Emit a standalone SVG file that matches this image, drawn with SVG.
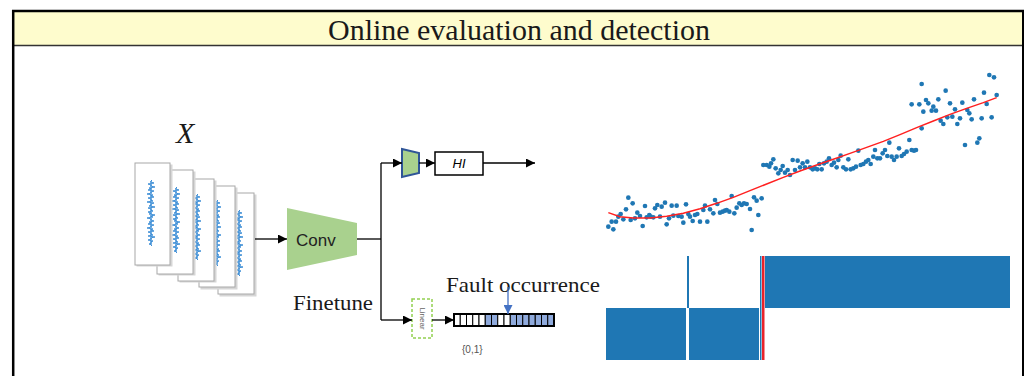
<svg xmlns="http://www.w3.org/2000/svg" xmlns:xlink="http://www.w3.org/1999/xlink" width="1027" height="376" viewBox="0 0 1027 376">
<style>
.serif{font-family:"Liberation Serif","Times New Roman",serif;fill:#1a1a1a}
.sans{font-family:"Liberation Sans",Arial,sans-serif}
.ln{fill:none;stroke:#000;stroke-width:1.3}
.card{fill:#fff;stroke:#a8a8a8;stroke-width:1}
.shadow{fill:#d6d6d6}
.sig{fill:none;stroke:#2f86d2;stroke-width:0.9}
.pt{fill:#1f77b4}
.cell{stroke:#000;stroke-width:1}
</style>
<defs>
<marker id="ah" viewBox="0 0 10 10" refX="10" refY="5" markerUnits="userSpaceOnUse" markerWidth="9" markerHeight="9" orient="auto"><path d="M0,0 L10,5 L0,10 z" fill="#000"/></marker>
<marker id="ahb" viewBox="0 0 10 10" refX="10" refY="5" markerUnits="userSpaceOnUse" markerWidth="9" markerHeight="9" orient="auto"><path d="M0,0 L10,5 L0,10 z" fill="#4472c4"/></marker>
<path id="sig" class="sig" d="M0,0 L1,1 L-1,2 L3,3 L-3,4 L1,5 L-1,6 L4,7 L-2,8 L1,9 L-3,10 L3,11 L-1,12 L1,13 L-4,14 L2,15 L-1,16 L3,17 L-3,18 L1,19 L-1,20 L2,21 L-4,22 L3,23 L-1,24 L1,25 L-2,26 L4,27 L-3,28 L1,29 L-1,30 L2,31 L-3,32 L1,33 L-2,34 L4,35 L-1,36 L2,37 L-4,38 L1,39 L-1,40 L3,41 L-2,42 L1,43 L-3,44 L3,45 L-1,46 L1,47 L-4,48 L2,49 L-1,50 L3,51 L-3,52 L1,53 L-1,54 L2,55 L-3,56 L4,57 L-1,58 L1,59 L-3,60 L2,61 L-1,62 L1,63 L-2,64 L1,65 L0,66"/>
</defs>

<g id="frame">
<rect x="13" y="11" width="1010" height="34" fill="#fefccd"/>
<line x1="13" y1="45.5" x2="1023" y2="45.5" stroke="#333" stroke-width="1.5"/>
<line x1="12" y1="11" x2="1024" y2="11" stroke="#000" stroke-width="2.5"/>
<line x1="13.2" y1="10" x2="13.2" y2="376" stroke="#000" stroke-width="2.5"/>
<line x1="1023" y1="10" x2="1023" y2="376" stroke="#000" stroke-width="2"/>
<text class="serif" x="519" y="40" font-size="30" text-anchor="middle" textLength="382" lengthAdjust="spacingAndGlyphs">Online evaluation and detection</text>
</g>

<g id="input-X">
<text class="serif" x="176" y="143" font-size="30" font-style="italic">X</text>
<rect class="shadow" x="219.5" y="194.5" width="37" height="102"/>
<rect class="card" x="218" y="193" width="36" height="101"/>
<use xlink:href="#sig" x="239" y="210"/>
<rect class="shadow" x="200.5" y="187.5" width="37" height="102"/>
<rect class="card" x="199" y="186" width="36" height="101"/>
<use xlink:href="#sig" x="217" y="200"/>
<rect class="shadow" x="179.5" y="180.5" width="37" height="102"/>
<rect class="card" x="178" y="179" width="36" height="102"/>
<use xlink:href="#sig" x="197" y="194"/>
<rect class="shadow" x="158.5" y="171.5" width="37" height="104"/>
<rect class="card" x="157" y="170" width="36" height="104"/>
<use xlink:href="#sig" x="176" y="187"/>
<rect class="shadow" x="136.5" y="164.5" width="36" height="102"/>
<rect class="card" x="135" y="163" width="35" height="102"/>
<use xlink:href="#sig" x="151" y="180"/>
</g>

<g id="conv">
<polygon points="287,208 357,223 357,255 287,270" fill="#a9d18e"/>
<text class="sans" x="296" y="246" font-size="17" fill="#222">Conv</text>
</g>

<g id="head">
<polygon points="402,149 419,153 419,173 402,177" fill="#a9d18e" stroke="#2f5597" stroke-width="2"/>
</g>

<g id="HI">
<rect x="435" y="152" width="48" height="23" fill="#fff" stroke="#000" stroke-width="1.5"/>
<text class="sans" x="459" y="168" font-size="13" font-style="italic" text-anchor="middle" fill="#000">HI</text>
</g>

<g id="linear">
<rect x="412" y="299" width="20" height="39" fill="#fff" stroke="#92d050" stroke-width="1.5" stroke-dasharray="3,2"/>
<text class="sans" font-size="8" fill="#666" text-anchor="middle" transform="translate(419.5,318.5) rotate(90)">Linear</text>
</g>

<g id="finetune-label">
<text class="serif" x="293" y="310" font-size="21" textLength="80" lengthAdjust="spacingAndGlyphs">Finetune</text>
</g>

<g id="fault-bar">
<text class="serif" x="446" y="292" font-size="22" textLength="154" lengthAdjust="spacingAndGlyphs">Fault occurrence</text>
<rect x="454" y="314" width="100" height="12" fill="#fff" stroke="#000" stroke-width="2"/>
<g class="cell">
<rect x="454" y="314" width="6.25" height="12" fill="#fff"/>
<rect x="460.25" y="314" width="6.25" height="12" fill="#fff"/>
<rect x="466.5" y="314" width="6.25" height="12" fill="#fff"/>
<rect x="472.75" y="314" width="6.25" height="12" fill="#fff"/>
<rect x="479" y="314" width="6.25" height="12" fill="#fff"/>
<rect x="485.25" y="314" width="6.25" height="12" fill="#8faadc"/>
<rect x="491.5" y="314" width="6.25" height="12" fill="#8faadc"/>
<rect x="497.75" y="314" width="6.25" height="12" fill="#fff"/>
<rect x="504" y="314" width="6.25" height="12" fill="#fff"/>
<rect x="510.25" y="314" width="6.25" height="12" fill="#8faadc"/>
<rect x="516.5" y="314" width="6.25" height="12" fill="#8faadc"/>
<rect x="522.75" y="314" width="6.25" height="12" fill="#8faadc"/>
<rect x="529" y="314" width="6.25" height="12" fill="#8faadc"/>
<rect x="535.25" y="314" width="6.25" height="12" fill="#8faadc"/>
<rect x="541.5" y="314" width="6.25" height="12" fill="#8faadc"/>
<rect x="547.75" y="314" width="6.25" height="12" fill="#8faadc"/>
</g>
<rect x="454" y="314" width="100" height="12" fill="none" stroke="#000" stroke-width="2"/>
<text class="sans" x="462" y="353" font-size="10" fill="#555">{0,1}</text>
</g>

<g id="connectors">
<path class="ln" d="M255,239 H287" marker-end="url(#ah)"/>
<path class="ln" d="M357,239 H381"/>
<path class="ln" d="M381,163 V320"/>
<path class="ln" d="M381,163 H402" marker-end="url(#ah)"/>
<path class="ln" d="M419,163 H435" marker-end="url(#ah)"/>
<path class="ln" d="M483,163 H535" marker-end="url(#ah)"/>
<path class="ln" d="M381,320 H412" marker-end="url(#ah)"/>
<path class="ln" d="M432,320 H454" marker-end="url(#ah)"/>
<path d="M508,287 V314" fill="none" stroke="#4472c4" stroke-width="1.3" marker-end="url(#ahb)"/>
</g>

<g id="scatter" transform="translate(600,60) scale(0.33333)">
<g class="pt">
<circle cx="25" cy="500" r="7"/><circle cx="40" cy="508" r="7"/><circle cx="35" cy="485" r="7"/><circle cx="48" cy="485" r="7"/><circle cx="55" cy="470" r="7"/><circle cx="62" cy="462" r="7"/><circle cx="70" cy="478" r="7"/><circle cx="78" cy="448" r="7"/><circle cx="85" cy="413" r="7"/><circle cx="92" cy="480" r="7"/><circle cx="98" cy="430" r="7"/><circle cx="105" cy="475" r="7"/><circle cx="112" cy="458" r="7"/><circle cx="120" cy="468" r="7"/><circle cx="128" cy="498" r="7"/><circle cx="135" cy="438" r="7"/><circle cx="140" cy="472" r="7"/><circle cx="148" cy="465" r="7"/><circle cx="152" cy="470" r="7"/><circle cx="160" cy="472" r="7"/><circle cx="165" cy="445" r="7"/><circle cx="172" cy="435" r="7"/><circle cx="180" cy="470" r="7"/><circle cx="185" cy="440" r="7"/><circle cx="195" cy="428" r="7"/><circle cx="200" cy="493" r="7"/><circle cx="207" cy="475" r="7"/><circle cx="215" cy="437" r="7"/><circle cx="220" cy="467" r="7"/><circle cx="230" cy="437" r="7"/><circle cx="235" cy="468" r="7"/><circle cx="245" cy="470" r="7"/><circle cx="250" cy="488" r="7"/><circle cx="258" cy="433" r="7"/><circle cx="265" cy="462" r="7"/><circle cx="270" cy="470" r="7"/><circle cx="278" cy="483" r="7"/><circle cx="285" cy="465" r="7"/><circle cx="292" cy="462" r="7"/><circle cx="300" cy="485" r="7"/><circle cx="310" cy="450" r="7"/><circle cx="315" cy="437" r="7"/><circle cx="322" cy="485" r="7"/><circle cx="330" cy="448" r="7"/><circle cx="340" cy="460" r="7"/><circle cx="345" cy="420" r="7"/><circle cx="352" cy="432" r="7"/><circle cx="360" cy="458" r="7"/><circle cx="368" cy="455" r="7"/><circle cx="375" cy="452" r="7"/><circle cx="380" cy="450" r="7"/><circle cx="388" cy="455" r="7"/><circle cx="395" cy="408" r="7"/><circle cx="403" cy="460" r="7"/><circle cx="410" cy="443" r="7"/><circle cx="418" cy="430" r="7"/><circle cx="425" cy="435" r="7"/><circle cx="432" cy="430" r="7"/><circle cx="440" cy="432" r="7"/><circle cx="450" cy="447" r="7"/><circle cx="455" cy="510" r="7"/><circle cx="462" cy="412" r="7"/><circle cx="470" cy="422" r="7"/><circle cx="475" cy="465" r="7"/><circle cx="485" cy="415" r="7"/>
<circle cx="490" cy="315" r="7"/><circle cx="500" cy="315" r="7"/><circle cx="508" cy="320" r="7"/><circle cx="513" cy="310" r="7"/><circle cx="520" cy="298" r="7"/><circle cx="527" cy="325" r="7"/><circle cx="535" cy="340" r="7"/><circle cx="542" cy="330" r="7"/><circle cx="548" cy="318" r="7"/><circle cx="555" cy="338" r="7"/><circle cx="563" cy="330" r="7"/><circle cx="570" cy="345" r="7"/><circle cx="578" cy="300" r="7"/><circle cx="585" cy="330" r="7"/><circle cx="593" cy="302" r="7"/><circle cx="600" cy="322" r="7"/><circle cx="608" cy="310" r="7"/><circle cx="615" cy="322" r="7"/><circle cx="622" cy="305" r="7"/><circle cx="630" cy="322" r="7"/><circle cx="638" cy="328" r="7"/><circle cx="645" cy="325" r="7"/><circle cx="652" cy="328" r="7"/><circle cx="658" cy="312" r="7"/><circle cx="665" cy="328" r="7"/><circle cx="672" cy="310" r="7"/><circle cx="680" cy="305" r="7"/><circle cx="687" cy="295" r="7"/><circle cx="695" cy="315" r="7"/><circle cx="702" cy="308" r="7"/><circle cx="710" cy="322" r="7"/><circle cx="715" cy="300" r="7"/><circle cx="722" cy="287" r="7"/><circle cx="730" cy="322" r="7"/><circle cx="738" cy="328" r="7"/><circle cx="745" cy="298" r="7"/><circle cx="752" cy="328" r="7"/><circle cx="760" cy="325" r="7"/><circle cx="768" cy="320" r="7"/><circle cx="775" cy="272" r="7"/><circle cx="782" cy="315" r="7"/><circle cx="790" cy="312" r="7"/><circle cx="798" cy="305" r="7"/><circle cx="805" cy="300" r="7"/><circle cx="812" cy="312" r="7"/><circle cx="820" cy="290" r="7"/><circle cx="825" cy="270" r="7"/><circle cx="832" cy="295" r="7"/><circle cx="840" cy="295" r="7"/><circle cx="848" cy="280" r="7"/><circle cx="855" cy="270" r="7"/><circle cx="862" cy="288" r="7"/><circle cx="868" cy="248" r="7"/><circle cx="875" cy="290" r="7"/><circle cx="882" cy="300" r="7"/><circle cx="890" cy="290" r="7"/><circle cx="897" cy="265" r="7"/><circle cx="905" cy="288" r="7"/><circle cx="912" cy="282" r="7"/><circle cx="920" cy="275" r="7"/><circle cx="928" cy="240" r="7"/><circle cx="935" cy="270" r="7"/><circle cx="942" cy="272" r="7"/><circle cx="948" cy="270" r="7"/>
<circle cx="935" cy="133" r="7"/><circle cx="958" cy="133" r="7"/><circle cx="965" cy="72" r="7"/><circle cx="970" cy="155" r="7"/><circle cx="965" cy="205" r="7"/><circle cx="978" cy="120" r="7"/><circle cx="985" cy="130" r="7"/><circle cx="995" cy="152" r="7"/><circle cx="1000" cy="140" r="7"/><circle cx="1008" cy="152" r="7"/><circle cx="1015" cy="118" r="7"/><circle cx="1022" cy="182" r="7"/><circle cx="1030" cy="192" r="7"/><circle cx="1037" cy="92" r="7"/><circle cx="1042" cy="172" r="7"/><circle cx="1050" cy="130" r="7"/><circle cx="1057" cy="170" r="7"/><circle cx="1065" cy="148" r="7"/><circle cx="1072" cy="192" r="7"/><circle cx="1080" cy="175" r="7"/><circle cx="1087" cy="128" r="7"/><circle cx="1095" cy="255" r="7"/><circle cx="1102" cy="150" r="7"/><circle cx="1108" cy="160" r="7"/><circle cx="1115" cy="178" r="7"/><circle cx="1122" cy="118" r="7"/><circle cx="1132" cy="248" r="7"/><circle cx="1138" cy="235" r="7"/><circle cx="1145" cy="175" r="7"/><circle cx="1152" cy="98" r="7"/><circle cx="1160" cy="132" r="7"/><circle cx="1168" cy="45" r="7"/><circle cx="1175" cy="172" r="7"/><circle cx="1182" cy="52" r="7"/><circle cx="1190" cy="105" r="7"/>
</g>
<polyline fill="none" stroke="#ff2020" stroke-width="4.5" points="25,458 60,470 100,474 150,474 200,469 250,460 300,446 350,430 400,412 450,392 500,372 550,352 600,333 650,315 700,298 750,280 800,262 850,244 900,224 950,203 1000,183 1050,163 1100,145 1150,128 1190,113"/>
</g>

<g id="detection-bars">
<rect x="606" y="308" width="80" height="52" fill="#1f77b4"/>
<rect x="689" y="308" width="70" height="52" fill="#1f77b4"/>
<rect x="687" y="256" width="2" height="52" fill="#1f77b4"/>
<rect x="760" y="256" width="1.5" height="104" fill="#1f77b4"/>
<rect x="765" y="256" width="245" height="52" fill="#1f77b4"/>
<rect x="762" y="256" width="2.5" height="104" fill="#e8232a"/>
</g>
</svg>
